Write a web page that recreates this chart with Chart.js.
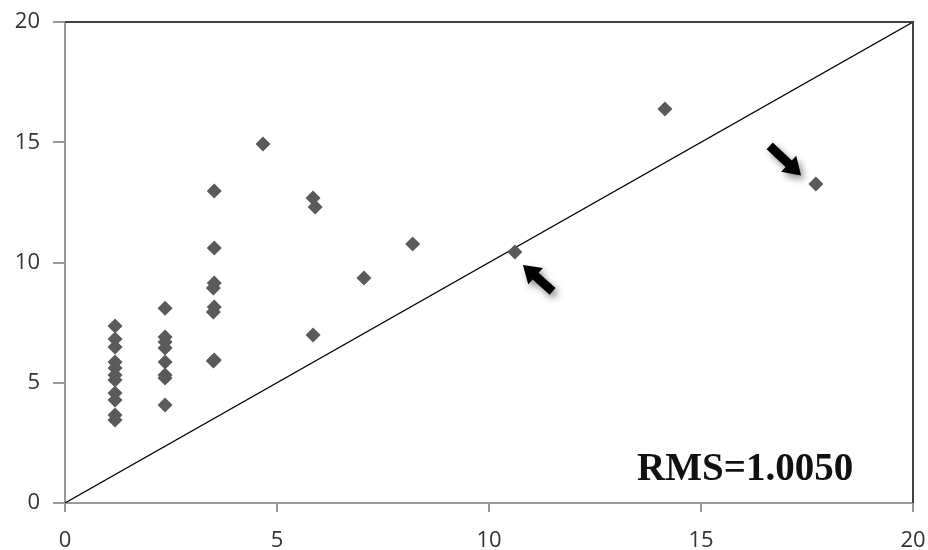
<!DOCTYPE html>
<html>
<head>
<meta charset="utf-8">
<script src="https://cdn.jsdelivr.net/npm/chart.js@4"></script>
<style>
  html, body { margin: 0; padding: 0; background: #fff; }
  #wrap { width: 928px; height: 550px; }
</style>
</head>
<body>
<div id="wrap"><canvas id="scatterChart" width="928" height="550"></canvas></div>
<script>
const xValues = [
    1.18, 1.18, 1.18, 1.18, 1.18, 1.18, 1.18, 1.18, 1.18, 1.18, 1.18,
    2.36, 2.36, 2.36, 2.36, 2.36, 2.36, 2.36, 2.36,
    3.52, 3.52, 3.52, 3.50, 3.52, 3.50, 3.52, 3.50,
    4.67, 5.85, 5.90, 5.85, 7.05, 8.20, 10.61, 14.15, 17.71
];
const yValues = [
    7.36, 6.82, 6.49, 5.86, 5.61, 5.32, 5.11, 4.57, 4.28, 3.66, 3.45,
    8.10, 6.90, 6.69, 6.44, 5.86, 5.32, 5.20, 4.07,
    12.97, 10.60, 9.15, 8.94, 8.15, 7.94, 5.95, 5.90,
    14.93, 12.68, 12.31, 6.99, 9.36, 10.77, 10.44, 16.38, 13.26
];
const lineX = [0, 20];
const lineY = [0, 20];
const tickValues = [0, 5, 10, 15, 20];
const rmsLabel = 'RMS=1.0050';
const rmsPos = [16.04, 1.37];
// arrows: [tailX, tailY, tipX, tipY]
const arrows = [
    [11.50, 8.80, 10.80, 9.90],
    [16.62, 14.85, 17.36, 13.62]
];

const points = xValues.map((x, i) => ({ x: x, y: yValues[i] }));
const linePoints = lineX.map((x, i) => ({ x: x, y: lineY[i] }));

const extras = {
    id: 'extras',
    afterDatasetsDraw(chart) {
        const ctx = chart.ctx;
        const a = chart.chartArea;
        const sx = chart.scales.x, sy = chart.scales.y;

        // dark top and right frame
        ctx.save();
        ctx.strokeStyle = '#404040';
        ctx.lineWidth = 2;
        ctx.beginPath();
        ctx.moveTo(a.left, a.top);
        ctx.lineTo(a.right, a.top);
        ctx.lineTo(a.right, a.bottom);
        ctx.stroke();
        ctx.restore();

        // arrows
        arrows.forEach(ar => {
            const x0 = sx.getPixelForValue(ar[0]), y0 = sy.getPixelForValue(ar[1]);
            const x1 = sx.getPixelForValue(ar[2]), y1 = sy.getPixelForValue(ar[3]);
            const ang = Math.atan2(y1 - y0, x1 - x0);
            const len = Math.hypot(x1 - x0, y1 - y0);
            ctx.save();
            ctx.translate(x0, y0);
            ctx.rotate(ang);
            ctx.shadowColor = 'rgba(0,0,0,0.45)';
            ctx.shadowBlur = 7;
            ctx.shadowOffsetX = 3;
            ctx.shadowOffsetY = 4;
            ctx.fillStyle = '#000';
            ctx.beginPath();
            ctx.moveTo(0, -4.5);
            ctx.lineTo(len - 17, -4.5);
            ctx.lineTo(len - 17, -11);
            ctx.lineTo(len, 0);
            ctx.lineTo(len - 17, 11);
            ctx.lineTo(len - 17, 4.5);
            ctx.lineTo(0, 4.5);
            ctx.closePath();
            ctx.fill();
            ctx.restore();
        });

        // RMS label
        ctx.save();
        ctx.font = 'bold 39px "Liberation Serif", "Times New Roman", serif';
        ctx.fillStyle = '#111';
        ctx.textAlign = 'center';
        ctx.textBaseline = 'middle';
        ctx.fillText(rmsLabel, sx.getPixelForValue(rmsPos[0]), sy.getPixelForValue(rmsPos[1]));
        ctx.restore();
    }
};

const tickFont = { family: '"Open Sans", "Liberation Sans", sans-serif', size: 22 };

new Chart(document.getElementById('scatterChart').getContext('2d'), {
    type: 'scatter',
    data: {
        datasets: [{
            data: points,
            pointStyle: 'rectRot',
            pointRadius: 7.5,
            pointHoverRadius: 7.5,
            backgroundColor: '#5a5a5a',
            borderColor: '#5a5a5a',
            borderWidth: 0
        }, {
            data: linePoints,
            showLine: true,
            pointRadius: 0,
            borderColor: '#000',
            borderWidth: 1.2,
            fill: false
        }]
    },
    options: {
        responsive: false,
        animation: false,
        layout: { padding: { top: 22, right: 15, left: 0, bottom: 0 } },
        plugins: {
            legend: { display: false },
            tooltip: { enabled: false }
        },
        scales: {
            x: {
                type: 'linear',
                min: 0,
                max: 20,
                afterBuildTicks: s => { s.ticks = tickValues.map(v => ({ value: v })); },
                afterFit: s => { s.height = 47; s.paddingLeft = 0; s.paddingRight = 0; },
                border: { display: true, color: '#9a9a9a', width: 2 },
                grid: { drawOnChartArea: false, drawTicks: true, tickLength: 9, color: '#9a9a9a', lineWidth: 2 },
                ticks: { color: '#333', font: tickFont, padding: 16, maxRotation: 0 }
            },
            y: {
                type: 'linear',
                min: 0,
                max: 20,
                afterBuildTicks: s => { s.ticks = tickValues.map(v => ({ value: v })); },
                afterFit: s => { s.width = 65; s.paddingTop = 0; s.paddingBottom = 0; },
                border: { display: true, color: '#9a9a9a', width: 2 },
                grid: { drawOnChartArea: false, drawTicks: true, tickLength: 12, color: '#9a9a9a', lineWidth: 2 },
                ticks: { color: '#333', font: tickFont, padding: 13 }
            }
        }
    },
    plugins: [extras]
});
</script>
</body>
</html>
